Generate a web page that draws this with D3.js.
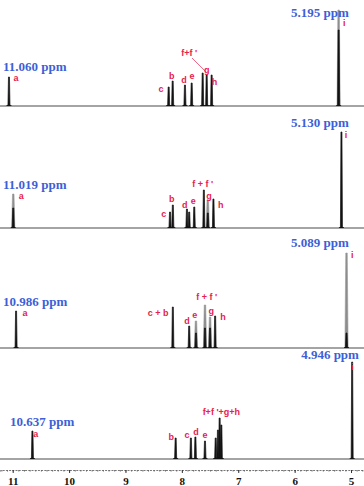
<!DOCTYPE html>
<html>
<head>
<meta charset="utf-8">
<script src="https://cdn.jsdelivr.net/npm/d3@7"></script>
<style>
  body { margin: 0; background: #fff; }
  svg { display: block; }
  .ppm { font-family: "Liberation Serif", "DejaVu Serif", serif; font-weight: bold; font-size: 13px; fill: #3d5fd8; }
  .lbl { font-family: "Liberation Sans", "DejaVu Sans", sans-serif; font-weight: bold; font-size: 9px; fill: #e8204e; }
  .tick text { font-family: "Liberation Serif", serif; font-weight: bold; font-size: 11px; fill: #111; }
</style>
</head>
<body>
<svg id="chart" width="364" height="486"></svg>
<script>
// Ticks del eje (ppm)
const ppmTicks = [11, 10, 9, 8, 7, 6, 5];

// Picos: [ppm, altura, altura en negro] (si la altura en negro es menor, la punta es gris)
const peaks1 = [
  [11.066, 29, 29], [8.234, 19, 19], [8.163, 25, 25], [7.945, 21, 21], [7.826, 23, 23],
  [7.631, 33, 33], [7.560, 31, 31], [7.472, 31, 31], [5.220, 96, 76]
];
const peaks2 = [
  [10.990, 34, 20], [8.210, 16, 16], [8.160, 23, 23], [7.910, 19, 19], [7.870, 16, 16],
  [7.780, 21, 21], [7.610, 38, 38], [7.540, 28, 15], [7.440, 29, 29], [5.170, 96, 96]
];
const peaks3 = [
  [10.940, 37, 37], [8.160, 41, 41], [7.870, 22, 22], [7.750, 27, 15], [7.590, 43, 20],
  [7.500, 31, 20], [7.410, 32, 32], [5.080, 95, 15]
];
const peaks4 = [
  [10.650, 28, 28], [8.110, 21, 21], [7.840, 21, 21], [7.760, 22, 22], [7.590, 18, 18],
  [7.400, 21, 21], [7.360, 29, 29], [7.330, 41, 41], [7.300, 34, 34], [4.980, 97, 97]
];

// Desplazamientos químicos: [texto, ppm, intensidad, ancla]
const shifts1 = [["11.060 ppm", 11.172, 40, "start"], ["5.195 ppm", 5.04, 94, "end"]];
const shifts2 = [["11.019 ppm", 11.172, 44, "start"], ["5.130 ppm", 5.04, 106, "end"]];
const shifts3 = [["10.986 ppm", 11.172, 47, "start"], ["5.089 ppm", 5.04, 106, "end"]];
const shifts4 = [["10.637 ppm", 11.048, 38, "start"], ["4.946 ppm", 4.86, 105, "end"]];

// Letras de asignación: [texto, ppm, intensidad]
const labels1 = [
  ["a", 10.94, 28], ["c", 8.37, 17], ["b", 8.18, 30], ["f+f '", 7.87, 53], ["d", 7.96, 26],
  ["e", 7.82, 30], ["g", 7.56, 36], ["h", 7.42, 24], ["i", 5.12, 83]
];
const labels2 = [
  ["a", 10.85, 32], ["b", 8.18, 29], ["c", 8.32, 14], ["f + f '", 7.63, 44], ["d", 7.95, 23],
  ["e", 7.80, 27], ["g", 7.52, 32], ["h", 7.31, 23], ["i", 5.09, 93]
];
const labels3 = [
  ["a", 10.78, 35], ["c + b", 8.42, 35], ["f + f '", 7.56, 51], ["d", 7.91, 27],
  ["e", 7.77, 33], ["g", 7.48, 37], ["h", 7.27, 31], ["i", 4.98, 93]
];
const labels4 = [
  ["a", 10.59, 25], ["b", 8.19, 22], ["c", 7.91, 24], ["d", 7.75, 27], ["e", 7.59, 24],
  ["f+f '+g+h", 7.30, 47], ["i", 4.98, 92]
];

// Línea guía del primer espectro (f+f')
const leader1 = [[7.82, 48], [7.57, 34]];

const spectra = [
  { peaks: peaks1, shifts: shifts1, labels: labels1, leader: leader1 },
  { peaks: peaks2, shifts: shifts2, labels: labels2 },
  { peaks: peaks3, shifts: shifts3, labels: labels3 },
  { peaks: peaks4, shifts: shifts4, labels: labels4 }
];

const svg = d3.select("#chart");
const width = 364;
const baseY = [106, 228, 348, 459];
const halfW = 0.022; // medio ancho del pico en ppm

const x = d3.scaleLinear().domain([11.225, 4.77]).range([0, width]);

const line = d3.line();

spectra.forEach((s, i) => {
  const y = d3.scaleLinear().domain([0, 100]).range([baseY[i], baseY[i] - 100]);
  const g = svg.append("g");

  // Línea base
  g.append("path")
    .attr("d", line([[x(11.225), y(0)], [x(4.77), y(0)]]))
    .attr("stroke", "#4a4a4a")
    .attr("stroke-width", 1.2)
    .attr("fill", "none");

  // Puntas grises
  g.selectAll("path.gray")
    .data(s.peaks.filter(p => p[2] < p[1]))
    .enter()
    .append("path")
    .attr("class", "gray")
    .attr("d", p => line([
      [x(p[0] + halfW * 1.3), y(0)], [x(p[0] + halfW * 0.6), y(p[1])],
      [x(p[0] - halfW * 0.6), y(p[1])], [x(p[0] - halfW * 1.3), y(0)]
    ]))
    .attr("fill", "#8c8c8c")
    .attr("stroke", "#9a9a9a")
    .attr("stroke-width", 0.6);

  // Picos negros
  g.selectAll("path.peak")
    .data(s.peaks)
    .enter()
    .append("path")
    .attr("class", "peak")
    .attr("d", p => line([
      [x(p[0] + halfW * 2), y(0)], [x(p[0] + halfW * 0.8), y(1.5)],
      [x(p[0] + halfW * 0.4), y(p[2])], [x(p[0] - halfW * 0.4), y(p[2])],
      [x(p[0] - halfW * 0.8), y(1.5)], [x(p[0] - halfW * 2), y(0)]
    ]))
    .attr("fill", "#111")
    .attr("stroke", "#111")
    .attr("stroke-width", 0.7)
    .attr("stroke-linejoin", "round");

  // Guía
  if (s.leader) {
    g.append("path")
      .attr("d", line(s.leader.map(d => [x(d[0]), y(d[1])])))
      .attr("stroke", "#e8204e")
      .attr("stroke-width", 0.7)
      .attr("fill", "none");
  }

  // Desplazamientos (azul)
  g.selectAll("text.ppm")
    .data(s.shifts)
    .enter()
    .append("text")
    .attr("class", "ppm")
    .attr("x", d => x(d[1]))
    .attr("y", d => y(d[2]))
    .attr("dy", "0.35em")
    .attr("text-anchor", d => d[3])
    .text(d => d[0]);

  // Letras (rojo)
  g.selectAll("text.lbl")
    .data(s.labels)
    .enter()
    .append("text")
    .attr("class", "lbl")
    .attr("x", d => x(d[1]))
    .attr("y", d => y(d[2]))
    .attr("dy", "0.35em")
    .attr("text-anchor", "middle")
    .text(d => d[0]);
});

// Eje inferior
const axisY = 470;
const minorTicks = d3.range(0, 65).map(k => 11.2 - k * 0.1);

const minor = svg.append("g")
  .attr("transform", `translate(0, ${axisY})`)
  .call(d3.axisBottom(x).tickValues(minorTicks).tickSize(1.5).tickFormat(""));
minor.select(".domain").attr("stroke", "#777").attr("stroke-dasharray", "2,1.2");
minor.selectAll(".tick line").attr("stroke", "#666");

const major = svg.append("g")
  .attr("transform", `translate(0, ${axisY})`)
  .call(d3.axisBottom(x).tickValues(ppmTicks).tickSize(3).tickPadding(4).tickFormat(d3.format("d")));
major.select(".domain").remove();
major.selectAll(".tick line").attr("stroke", "#333");
</script>
</body>
</html>
